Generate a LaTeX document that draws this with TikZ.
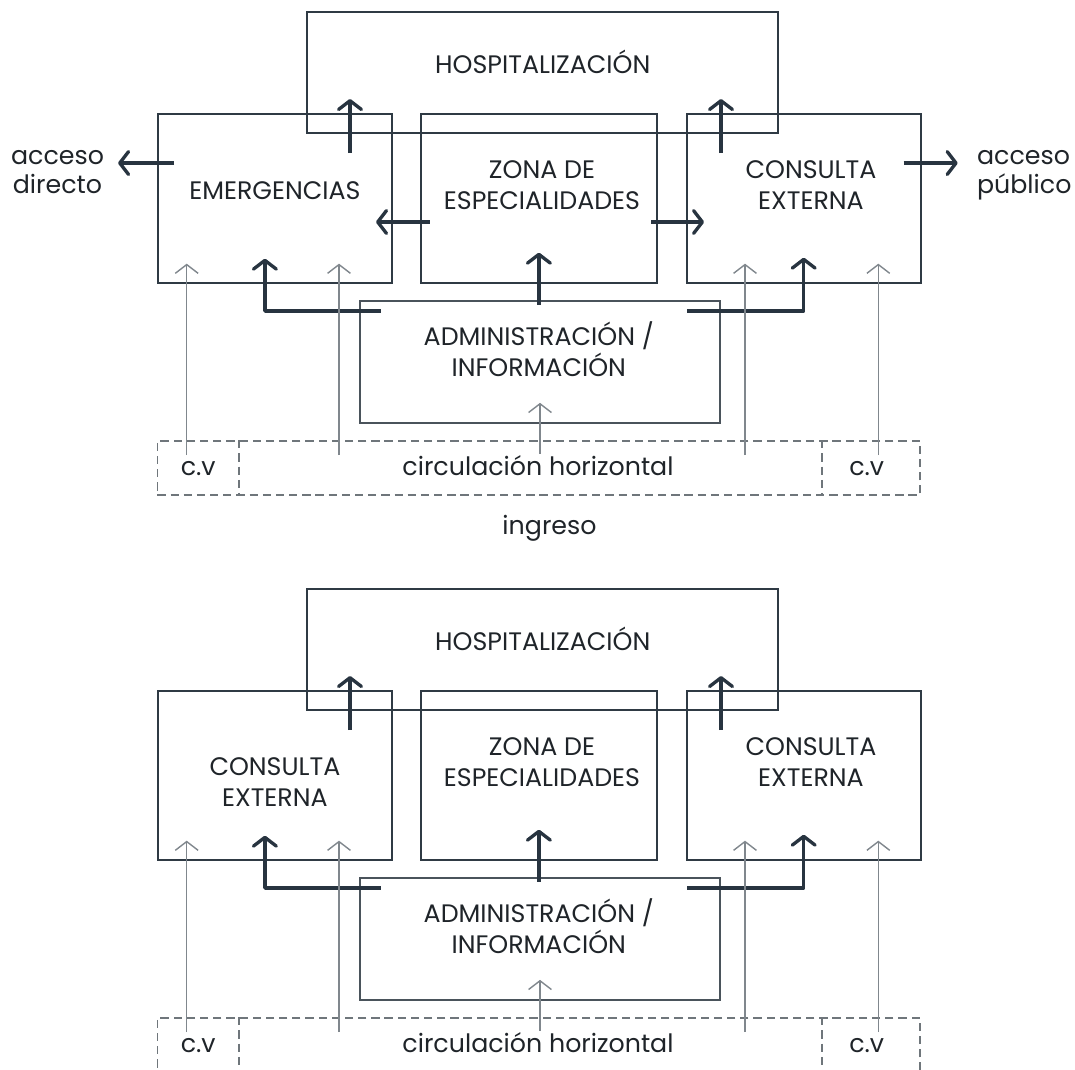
\documentclass[tikz,border=0pt]{standalone}
\usepackage{fontspec}
\setmainfont{Poppins}
\usetikzlibrary{arrows.meta,calc}
\definecolor{roomline}{HTML}{2F3A44}
\definecolor{adminline}{HTML}{4A535B}
\definecolor{flowdark}{HTML}{283440}
\definecolor{flowgray}{HTML}{80878D}
\definecolor{dashgray}{HTML}{6F767B}
\definecolor{labelc}{HTML}{1F2429}
\tikzset{
  room/.style 2 args={draw=roomline,line width=1.1pt,minimum width=#1*0.02cm,minimum height=#2*0.02cm,inner sep=0pt},
  strip/.style 2 args={draw=dashgray,line width=0.9pt,dash pattern=on 4.7pt off 2.8pt,minimum width=#1*0.02cm,minimum height=#2*0.02cm,inner sep=0pt},
  caps/.style={text=labelc,font=\fontsize{14.4}{17.6}\selectfont,align=center,anchor=base,inner sep=0pt},
  lower/.style={text=labelc,font=\fontsize{14.4}{16.5}\selectfont,align=center,anchor=base,inner sep=0pt},
  mainflow/.style={draw=flowdark,line width=1.9pt,line join=round,-{Straight Barb[length=5pt,width=13pt,round]}},
  sideflow/.style={draw=flowgray,line width=0.8pt,-{Straight Barb[length=5pt,width=13pt]}},
}
\begin{document}
\begin{tikzpicture}[x=0.02cm,y=-0.02cm]
  \useasboundingbox (0,0) rectangle (1075,1069);
  \clip (0,0) rectangle (1075,1069);
  \foreach \oy/\s/\izq/\yizq in {0/a/EMERGENCIAS/199.3,577/b/{CONSULTA\\EXTERNA}/229.7}{
    \begin{scope}[shift={(0,\oy)}]
      % recintos
      \node[room={471}{121.5}] (hosp\s) at (542.8,72.3) {};
      \node[room={233.7}{168.4}] (izq\s) at (274.9,198.5) {};
      \node[room={235.7}{168.4}] (zona\s) at (538.9,198.5) {};
      \node[room={234}{168.4}] (der\s) at (803.7,198.5) {};
      \node[room={360}{122},draw=adminline,line width=1.3pt] (admin\s) at (540,361.7) {};
      \node[strip={762.7}{54}] (fila\s) at (538.7,468) {};
      \draw[dashgray,line width=0.9pt,dash pattern=on 4.7pt off 2.8pt] (239,0 |- fila\s.north) -- (239,0 |- fila\s.south);
      \draw[dashgray,line width=0.9pt,dash pattern=on 4.7pt off 2.8pt] (821.7,0 |- fila\s.north) -- (821.7,0 |- fila\s.south);
      % textos (base = ultima linea)
      \node[caps] (thosp\s) at (542.8,73) {HOSPITALIZACIÓN};
      \node[caps] (tizq\s) at (274.9,\yizq) {\izq};
      \node[caps] (tzona\s) at (542,209.3) {ZONA DE\\ESPECIALIDADES};
      \node[caps] (tder\s) at (811,209.3) {CONSULTA\\EXTERNA};
      \node[caps] (tadmin\s) at (538.8,376.7) {ADMINISTRACIÓN /\\INFORMACIÓN};
      \node[lower] (cvi\s) at (198.2,475) {c.v};
      \node[lower] (circ\s) at (538,475) {circulación horizontal};
      \node[lower] (cvd\s) at (866.7,475) {c.v};
      % flujos
      \draw[mainflow] ($(hosp\s.south)+(-192.8,19)$) -- ($(hosp\s.south)+(-192.8,-35)$);
      \draw[mainflow] ($(hosp\s.south)+(178.2,19)$) -- ($(hosp\s.south)+(178.2,-35)$);
      \draw[mainflow] ($(zona\s.south |- admin\s.north)+(0,5)$) -- ($(zona\s.south)+(0,-31)$);
      \draw[mainflow] ($(admin\s.north west)+(22,11.5)$) -| ($(izq\s.south)+(-10,-25)$);
      \draw[mainflow] ($(admin\s.north east)+(-34,11.5)$) -| ($(der\s.south)+(0,-26)$);
      \foreach \x in {186.7,339,745,878.3}
        \draw[sideflow] ($(\x,0 |- fila\s.north)+(0,15)$) -- ($(\x,0 |- izq\s.south)+(0,-20)$);
      \draw[sideflow] ($(admin\s.south)+(0,30)$) -- ($(admin\s.south)+(0,-21)$);
    \end{scope}
  }
  % solo en el esquema superior
  \node[lower] (ingreso) at (549.5,534) {ingreso};
  \node[lower] (accdir) at (57.5,193) {acceso\\directo};
  \node[lower,align=left,anchor=base west] (accpub) at (976.7,193) {acceso\\público};
  \draw[mainflow] ($(izqa.north west)+(17,49.7)$) -- ($(izqa.north west)+(-39,49.7)$);
  \draw[mainflow] ($(dera.north east)+(-18,49.7)$) -- ($(dera.north east)+(36,49.7)$);
  \draw[mainflow] ($(zonaa.west)+(9.7,23.5)$) -- ($(izqa.east)+(-16.7,23.5)$);
  \draw[mainflow] ($(zonaa.east)+(-6.7,23.5)$) -- ($(dera.west)+(18.3,23.5)$);
\end{tikzpicture}
\end{document}
